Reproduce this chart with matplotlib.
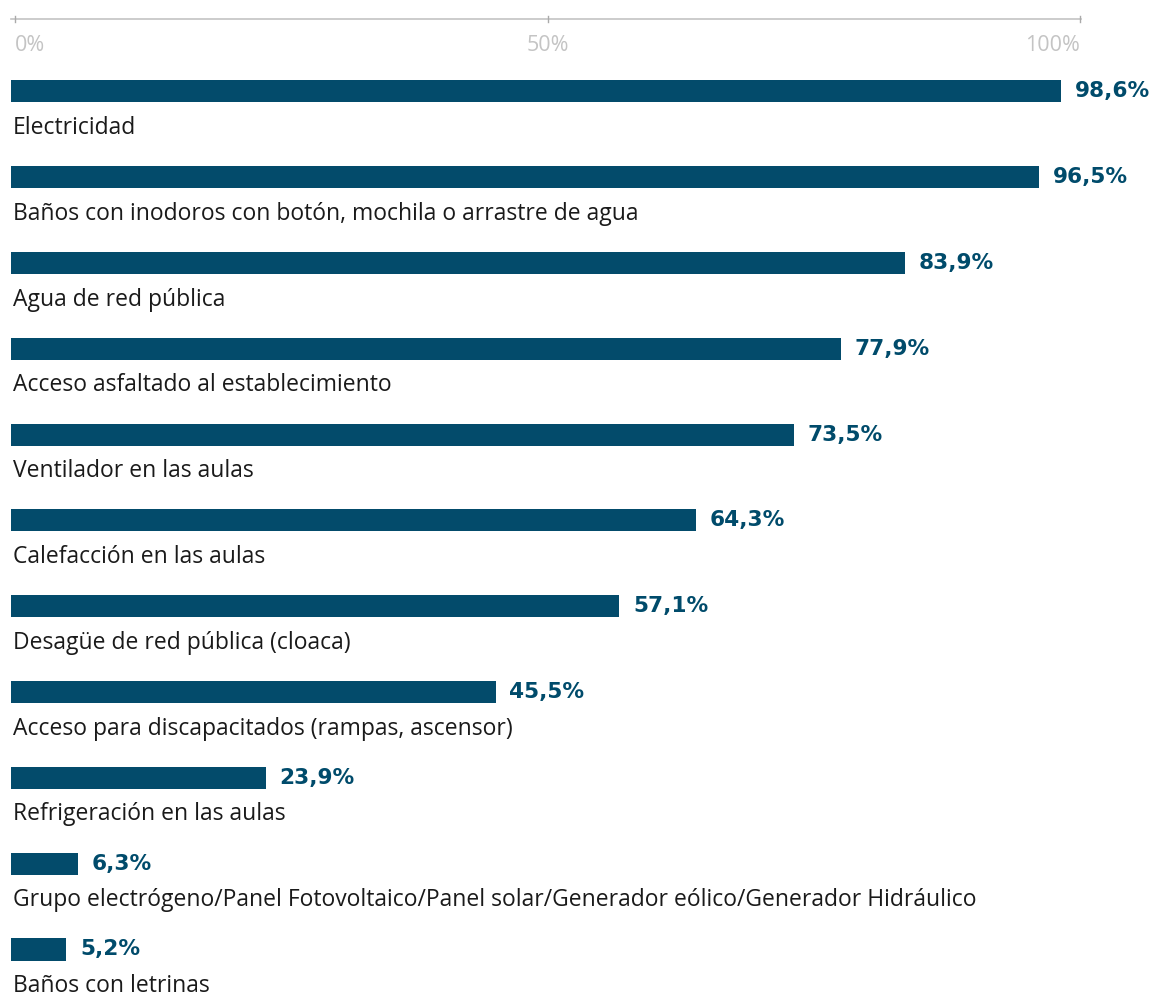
import matplotlib.pyplot as plt
import numpy as np

categories = [
    "Electricidad",
    "Baños con inodoros con botón, mochila o arrastre de agua",
    "Agua de red pública",
    "Acceso asfaltado al establecimiento",
    "Ventilador en las aulas",
    "Calefacción en las aulas",
    "Desagüe de red pública (cloaca)",
    "Acceso para discapacitados (rampas, ascensor)",
    "Refrigeración en las aulas",
    "Grupo electrógeno/Panel Fotovoltaico/Panel solar/Generador eólico/Generador Hidráulico",
    "Baños con letrinas",
]
values = [98.6, 96.5, 83.9, 77.9, 73.5, 64.3, 57.1, 45.5, 23.9, 6.3, 5.2]
tick_vals = [0, 50, 100]
tick_labels = ["0%", "50%", "100%"]

bar_color = "#034b6b"
label_color = "#004b6b"
grey = "#c4c4c4"
font = "Open Sans"

W, H = 1155, 994
fig = plt.figure(figsize=(W / 100, H / 100), dpi=100)
ax = fig.add_axes([11 / W, 0, 1065 / W, 1])

row_px = 85.8
first_px = 91.5
y = np.arange(len(values))
ax.set_xlim(0, 100)
ax.set_ylim((H - first_px) / row_px, -first_px / row_px)
ax.axis("off")

ax.barh(y, values, height=22 / row_px, color=bar_color)

for i, (v, name) in enumerate(zip(values, categories)):
    ax.annotate(f"{v:.1f}%".replace(".", ","), (v, i), xytext=(10, 0),
                textcoords="offset points", va="center", ha="left",
                fontsize=15.6, fontweight="bold", color=label_color, family="DejaVu Sans")
    ax.annotate(name, (0, i), xytext=(1.5, -26.3), textcoords="offset points",
                va="center", ha="left", fontsize=16.5, color="#1a1a1a", family=font,
                annotation_clip=False)

# top axis
axis_y = (19 - first_px) / row_px
ax.plot([tick_vals[0], tick_vals[-1] + 0.5], [axis_y, axis_y], color=grey, lw=1.2, clip_on=False)
aligns = ["left", "center", "right"]
for t, lab, ha in zip(tick_vals, tick_labels, aligns):
    tx = t + 0.4
    ax.plot([tx, tx], [axis_y - 0.04, axis_y + 0.04], color="#aaaaaa", lw=1, clip_on=False)
    ax.annotate(lab, (tx, axis_y), xytext=(0, -19), textcoords="offset points",
                ha=ha, va="center", fontsize=15.5, color=grey, family=font,
                annotation_clip=False)

fig.savefig("out.png", dpi=100)
